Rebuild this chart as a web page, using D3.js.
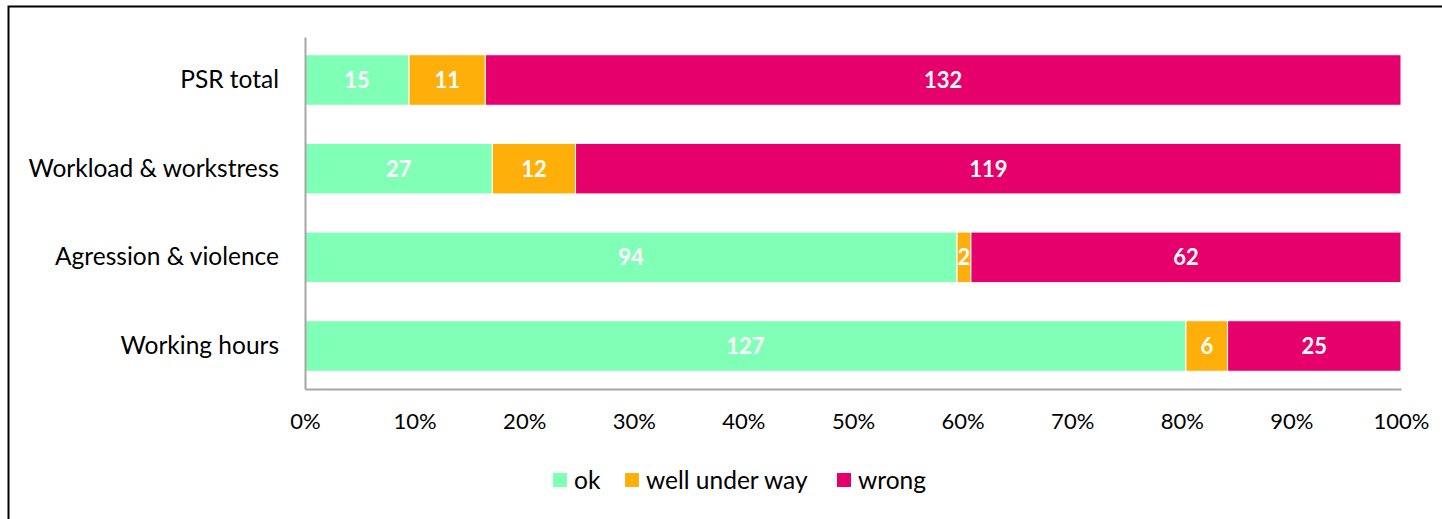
<!DOCTYPE html>
<html>
<head>
<meta charset="utf-8">
<script src="https://cdn.jsdelivr.net/npm/d3@7"></script>
<style>
  body { margin: 0; background: #fff; }
  svg { display: block; font-family: Lato, "Open Sans", sans-serif; }
  .axis path, .axis line { stroke: #a6a6a6; }
  .axis text { fill: #000; font-size: 22px; font-family: Lato, "Open Sans", sans-serif; }
  .y-axis text { font-size: 24.5px; }
</style>
</head>
<body>
<svg id="chart" width="1442" height="519"></svg>
<script>
const categories = ['PSR total', 'Workload & workstress', 'Agression & violence', 'Working hours']
const seriesNames = ['ok', 'well under way', 'wrong']
const okValues = [15, 27, 94, 127]
const underWayValues = [11, 12, 2, 6]
const wrongValues = [132, 119, 62, 25]
const xTicks = [0, 0.1, 0.2, 0.3, 0.4, 0.5, 0.6, 0.7, 0.8, 0.9, 1]
const colors = ['#80ffb6', '#ffaf09', '#e5006c']

const rows = categories.map((c, i) => ({
	category: c,
	ok: okValues[i],
	'well under way': underWayValues[i],
	wrong: wrongValues[i],
}))
rows.forEach((r) => {
	r.total = seriesNames.reduce((s, k) => s + r[k], 0)
})

const svg = d3.select('#chart')
const margin = { left: 305, right: 41, top: 37, bottom: 130 }
const width = 1442 - margin.left - margin.right
const height = 519 - margin.top - margin.bottom

// outer frame
svg.append('rect')
	.attr('x', 8.5).attr('y', 6.5)
	.attr('width', 1442).attr('height', 530)
	.attr('fill', 'none').attr('stroke', '#000').attr('stroke-width', 2)

const chart = svg.append('g').attr('transform', `translate(${margin.left}, ${margin.top})`)

const xScale = d3.scaleLinear().domain([0, 1]).range([0, width])
const yScale = d3.scaleBand().domain(categories).range([0, height]).paddingInner(0.43).paddingOuter(0.2)
const color = d3.scaleOrdinal().domain(seriesNames).range(colors)

const stack = d3.stack().keys(seriesNames).value((d, k) => d[k] / d.total)
const layers = stack(rows)

const groups = chart.selectAll('.layer').data(layers).enter().append('g')
	.attr('class', 'layer')
	.attr('fill', (d) => color(d.key))

groups.selectAll('rect').data((d) => d).enter().append('rect')
	.attr('x', (d) => xScale(d[0]))
	.attr('y', (d) => yScale(d.data.category))
	.attr('width', (d) => xScale(d[1]) - xScale(d[0]))
	.attr('height', yScale.bandwidth())
	.attr('stroke', '#fff')
	.attr('stroke-width', 1)

groups.selectAll('text').data((d) => d.map((v) => ({ v, key: d.key }))).enter().append('text')
	.attr('x', (d) => (xScale(d.v[0]) + xScale(d.v[1])) / 2)
	.attr('y', (d) => yScale(d.v.data.category) + yScale.bandwidth() / 2)
	.attr('dy', '0.36em')
	.attr('text-anchor', 'middle')
	.attr('fill', '#fff')
	.attr('font-weight', 'bold')
	.attr('font-size', '22px')
	.text((d) => d.v.data[d.key])

chart.append('g')
	.attr('class', 'axis')
	.attr('transform', `translate(0, ${height})`)
	.call(d3.axisBottom(xScale).tickValues(xTicks).tickFormat(d3.format('.0%')).tickSize(0).tickPadding(24))

chart.append('g')
	.attr('class', 'axis y-axis')
	.call(d3.axisLeft(yScale).tickSize(0).tickPadding(26))

chart.selectAll('.axis path').attr('stroke-width', 2)

// legend
const legend = svg.append('g').attr('transform', 'translate(553, 480)')
const legendX = [0, 72, 284]
seriesNames.forEach((name, i) => {
	const g = legend.append('g').attr('transform', `translate(${legendX[i]}, 0)`)
	g.append('rect').attr('x', 0).attr('y', -7).attr('width', 14).attr('height', 14).attr('fill', colors[i])
	g.append('text').attr('x', 21).attr('y', 0).attr('dy', '0.36em').attr('font-size', '24.5px').text(name)
})
</script>
</body>
</html>
